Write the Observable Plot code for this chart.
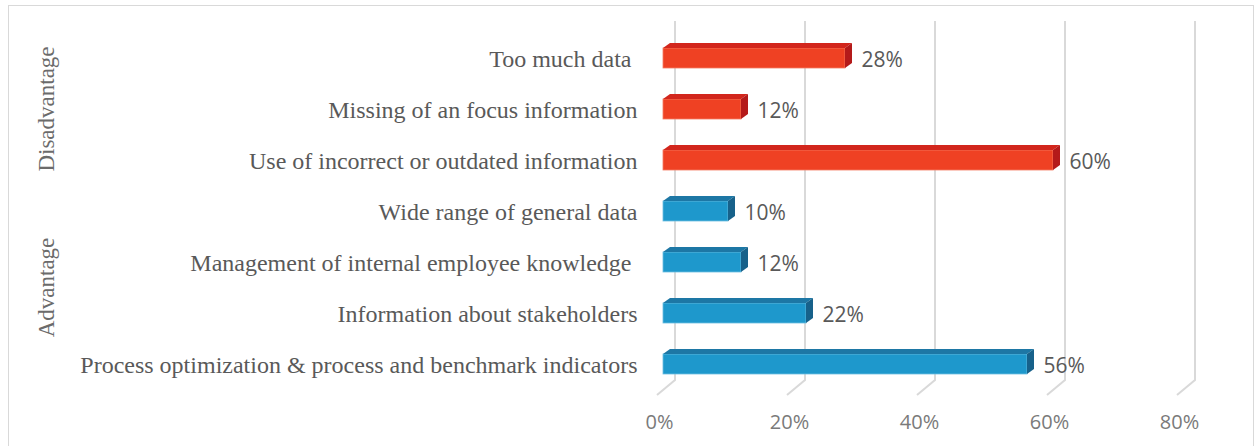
<!DOCTYPE html>
<html><head><meta charset="utf-8">
<script src="https://cdn.jsdelivr.net/npm/d3@7"></script>
<script src="https://cdn.jsdelivr.net/npm/@observablehq/plot@0.6"></script>
<style>
body{margin:0;background:#fff}
#wrap{position:relative;width:1257px;height:446px;overflow:hidden}
#frame{position:absolute;left:8px;top:5px;width:1246px;height:460px;border:1px solid #d9d9d9;box-sizing:border-box;pointer-events:none}
</style>
</head><body><div id="wrap"><div id="chart"></div><div id="frame"></div></div>
<script>
const categories = [
  "Too much data\u00a0",
  "Missing of an focus information",
  "Use of incorrect or outdated information",
  "Wide range of general data",
  "Management of internal employee knowledge\u00a0",
  "Information about stakeholders",
  "Process optimization & process and benchmark indicators"
];
const values = [28, 12, 60, 10, 12, 22, 56];
const groups = ["Disadvantage","Disadvantage","Disadvantage","Advantage","Advantage","Advantage","Advantage"];
const groupNames = ["Disadvantage", "Advantage"];
const xTicks = [0, 20, 40, 60, 80];

const colors = {
  Disadvantage: {front: "#EF4123", top: "#D2261C", side: "#B41A1A", edge: "#F47A62"},
  Advantage: {front: "#1E98CC", top: "#1D77A5", side: "#17618A", edge: "#6BBDE0"}
};

const data = categories.map((c, i) => ({category: c, value: values[i], group: groups[i]}));

const DX = 7, DY = 5;          // bar depth (pixels)
const WALL_TOP = 21, WALL_BOTTOM = 380, FLOOR_FRONT = 395; // wall geometry (pixels)

const gridMark = (index, scales) => {
  const x = scales.x;
  const g = d3.create("svg:g").attr("fill", "none").attr("stroke", "#d9d9d9").attr("stroke-width", 2);
  for (const t of xTicks) {
    const px = x(t);
    g.append("path").attr("d", `M${px + 12},${WALL_TOP}L${px + 12},${WALL_BOTTOM}L${px - 6},${FLOOR_FRONT}`);
  }
  return g.node();
};

const facesMark = (index, scales) => {
  const x = scales.x, y = scales.y;
  const bw = y.bandwidth ? y.bandwidth() : 20;
  const g = d3.create("svg:g");
  for (const d of data) {
    const x0 = x(0), x1 = x(d.value), y0 = y(d.category), y1 = y0 + bw;
    const c = colors[d.group];
    g.append("path").attr("fill", c.top)
      .attr("d", `M${x0},${y0}L${x0 + DX},${y0 - DY}L${x1 + DX},${y0 - DY}L${x1},${y0}Z`);
    g.append("path").attr("fill", c.side)
      .attr("d", `M${x1},${y0}L${x1 + DX},${y0 - DY}L${x1 + DX},${y1 - DY}L${x1},${y1}Z`);
  }
  return g.node();
};

const groupMark = (index, scales) => {
  const y = scales.y;
  const bw = y.bandwidth ? y.bandwidth() : 20;
  const g = d3.create("svg:g")
    .attr("font-family", "'Liberation Serif', 'Times New Roman', serif")
    .attr("font-size", 23).attr("fill", "#6b6b6b").attr("text-anchor", "middle");
  for (const name of groupNames) {
    const ys = data.filter(d => d.group === name).map(d => y(d.category) + bw / 2);
    const cy = (d3.min(ys) + d3.max(ys)) / 2;
    g.append("text").attr("transform", `translate(46,${cy}) rotate(-90)`)
      .attr("dy", "0.35em").text(name);
  }
  return g.node();
};

const chart = Plot.plot({
  width: 1257,
  height: 446,
  marginLeft: 663,
  marginRight: 74,
  marginTop: 16,
  marginBottom: 39,
  style: {background: "transparent", overflow: "visible"},
  x: {domain: [0, 80], axis: null},
  y: {domain: categories, padding: 0.6, axis: null},
  marks: [
    gridMark,
    Plot.barX(data, {
      x: "value", y: "category",
      fill: d => colors[d.group].front,
      stroke: d => colors[d.group].edge, strokeWidth: 0.8
    }),
    facesMark,
    Plot.text(data, {
      x: "value", y: "category", text: d => d.value + "%",
      textAnchor: "start", dx: 16, dy: 2,
      fontSize: 21, fill: "#595959",
      fontFamily: "'Open Sans', 'Liberation Sans', sans-serif"
    }),
    Plot.text(data, {
      y: "category", text: "category",
      frameAnchor: "left", textAnchor: "end", dx: -26, dy: 1,
      fontSize: 24, fill: "#595959",
      fontFamily: "'Liberation Serif', 'Times New Roman', serif"
    }),
    Plot.text(xTicks, {
      x: d => d, text: d => d + "%",
      frameAnchor: "bottom", dx: -4, dy: 21,
      fontSize: 20, fill: "#7a7a7a",
      fontFamily: "'Open Sans', 'Liberation Sans', sans-serif"
    }),
    groupMark
  ]
});
document.getElementById("chart").appendChild(chart);
</script>
</body></html>
